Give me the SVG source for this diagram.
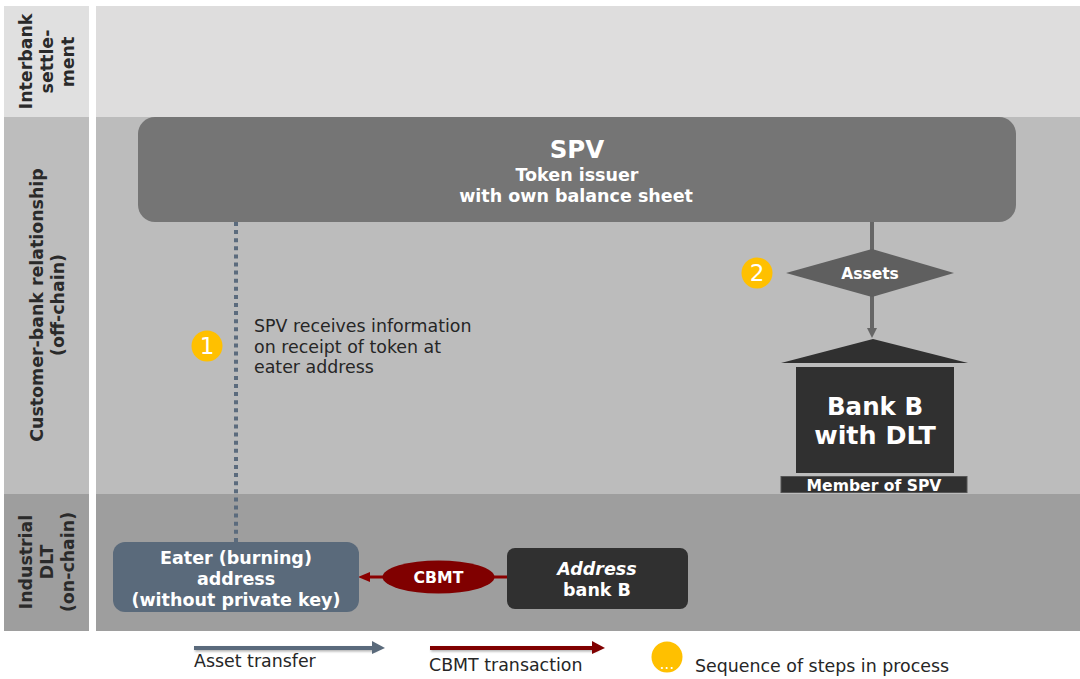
<svg xmlns="http://www.w3.org/2000/svg" width="1080" height="679" viewBox="0 0 1080 679">
<style>
text{font-family:"DejaVu Sans",sans-serif;text-anchor:middle}
.b{font-weight:700}
.w{fill:#fff}
.l{font-size:17.4px;font-weight:700;fill:#2a2a2a}
.n{font-size:17.4px;fill:#262626;text-anchor:start}
.m{font-size:17.500px;font-weight:700;fill:#fff}
.s{font-size:23px;fill:#fff}
</style>
<defs>
<filter id="sh" filterUnits="userSpaceOnUse" x="180" y="635" width="440" height="30"><feDropShadow dx="1" dy="1.500" stdDeviation="1" flood-color="#000" flood-opacity=".3"/></filter>
</defs>
<g id="bands">
<rect x="4" y="6" width="85" height="111" fill="#e0e0e0"/>
<rect x="96" y="6" width="984" height="111" fill="#dedddd"/>
<rect x="4" y="117" width="85" height="377" fill="#bdbdbd"/>
<rect x="96" y="117" width="984" height="377" fill="#bcbcbc"/>
<rect x="4" y="494" width="85" height="137" fill="#9e9e9e"/>
<rect x="96" y="494" width="984" height="137" fill="#9e9e9e"/>
</g>
<g id="band-labels">
<text class="l" transform="translate(32,61.500) rotate(-90)">Interbank</text>
<text class="l" transform="translate(53,61.500) rotate(-90)">settle-</text>
<text class="l" transform="translate(74,62) rotate(-90)">ment</text>
<text class="l" transform="translate(43,305) rotate(-90)">Customer-bank relationship</text>
<text class="l" transform="translate(64,305) rotate(-90)">(off-chain)</text>
<text class="l" transform="translate(32,562) rotate(-90)">Industrial</text>
<text class="l" transform="translate(53,562) rotate(-90)">DLT</text>
<text class="l" transform="translate(74,562) rotate(-90)">(on-chain)</text>
</g>
<g id="connectors">
<path d="M236 222V542" fill="none" stroke="#5b6b7d" stroke-width="4" stroke-dasharray="4 4.100"/>
<path d="M872 222V250" fill="none" stroke="#666" stroke-width="4"/>
<path d="M872 296V329" fill="none" stroke="#666" stroke-width="4"/>
<path d="M867 328H877L872 338Z" fill="#666"/>
<path d="M507 577H370" fill="none" stroke="#8b0000" stroke-width="3"/>
<path d="M358 577L370 572V582Z" fill="#8b0000"/>
</g>
<g id="spv">
<rect x="138" y="117" width="878" height="105" rx="17" fill="#757575"/>
<text class="w b" x="577" y="158" font-size="24.500">SPV</text>
<text class="m" x="577" y="181">Token issuer</text>
<text class="m" x="576" y="202">with own balance sheet</text>
</g>
<g id="step-1">
<circle cx="207" cy="346" r="15.500" fill="#ffc000"/>
<text class="s" x="207" y="354">1</text>
</g>
<g id="step-1-note">
<text class="n" x="254" y="332">SPV receives information</text>
<text class="n" x="254" y="353">on receipt of token at</text>
<text class="n" x="254" y="373">eater address</text>
</g>
<g id="step-2">
<circle cx="757" cy="273" r="15.500" fill="#ffc000"/>
<text class="s" x="757" y="281">2</text>
</g>
<g id="assets">
<path d="M786 273L872 249L954 273L872 297Z" fill="#5f5f5f"/>
<text class="b w" x="870" y="279" font-size="15.500">Assets</text>
</g>
<g id="bank-b">
<path d="M781 363L873 339L968 363Z" fill="#303030"/>
<rect x="796" y="367" width="158" height="106" fill="#303030"/>
<text class="b w" x="875" y="415" font-size="24.500">Bank B</text>
<text class="b w" x="875" y="444" font-size="25.400">with DLT</text>
<rect x="781" y="476.500" width="186" height="16" fill="#303030" stroke="#555" stroke-width="1"/>
<text class="b w" x="874" y="491" font-size="15.600">Member of SPV</text>
</g>
<g id="eater">
<rect x="113" y="542" width="246" height="70" rx="12" fill="#5a6a7b"/>
<text class="m" x="236" y="564">Eater (burning)</text>
<text class="m" x="236" y="585">address</text>
<text class="m" x="236" y="606">(without private key)</text>
</g>
<g id="cbmt">
<ellipse cx="438.500" cy="577" rx="56" ry="16.500" fill="#800000"/>
<text class="b w" x="438.500" y="583" font-size="15.700">CBMT</text>
</g>
<g id="address-bank-b">
<rect x="507" y="548" width="181" height="61" rx="8" fill="#303030"/>
<text class="m" x="597" y="575" font-style="italic">Address</text>
<text class="m" x="597" y="596">bank B</text>
</g>
<g id="legend">
<path d="M194 648H376" stroke="#5a6a7b" stroke-width="4" fill="none" filter="url(#sh)"/>
<path d="M372 641L385 648L372 654Z" fill="#5a6a7b"/>
<text class="n" x="194" y="667">Asset transfer</text>
<path d="M430 648H597" stroke="#800000" stroke-width="4" fill="none" filter="url(#sh)"/>
<path d="M592 641L605 648L592 654Z" fill="#800000"/>
<text class="n" x="429" y="671">CBMT transaction</text>
<circle cx="667" cy="657" r="15.500" fill="#ffc000"/>
<text class="w" x="667" y="669" font-size="15">...</text>
<text class="n" x="695" y="672">Sequence of steps in process</text>
</g>
</svg>
